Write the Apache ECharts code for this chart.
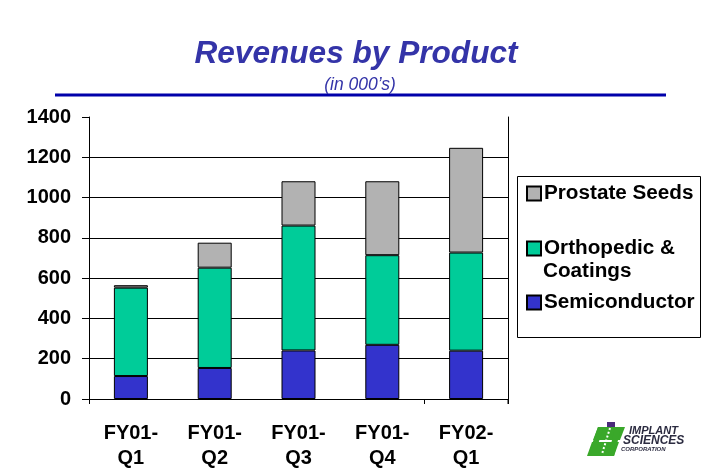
<!DOCTYPE html>
<html>
<head>
<meta charset="utf-8">
<script src="https://cdn.jsdelivr.net/npm/echarts@6/dist/echarts.min.js"></script>
<style>html,body{margin:0;padding:0;background:#fff}#c{width:720px;height:475px}</style>
</head>
<body>
<div id="c"></div>
<script>
var categories = ['FY01-\nQ1', 'FY01-\nQ2', 'FY01-\nQ3', 'FY01-\nQ4', 'FY02-\nQ1'];
var semiconductor = [114, 154, 241, 269, 240];
var orthopedic = [439, 498, 620, 445, 487];
var prostate = [12, 124, 220, 367, 520];
var seriesNames = ['Semiconductor', 'Orthopedic & Coatings', 'Prostate Seeds'];
var yTicks = [0, 200, 400, 600, 800, 1000, 1200, 1400];

var FONT = '"Liberation Sans", Arial, sans-serif';
var chart = echarts.init(document.getElementById('c'), null, {renderer: 'canvas'});

function legendAt(name, top, extra) {
  return Object.assign({
    data: [name],
    left: 526, top: top,
    orient: 'vertical',
    itemWidth: 14, itemHeight: 14,
    itemGap: 0,
    selectedMode: false,
    icon: 'rect',
    padding: 0,
    textStyle: {fontFamily: FONT, fontWeight: 'bold', fontSize: 20.7, color: '#000', padding: [0, 0, 0, -2]}
  }, extra || {});
}

var option = {
  animation: false,
  backgroundColor: '#fff',
  title: [
    {text: 'Revenues by Product', left: 351, textAlign: 'center', top: 33,
     textStyle: {fontFamily: FONT, fontSize: 31.6, fontWeight: 'bold', fontStyle: 'italic', color: '#3434A8'}},
    {text: '(in 000\u2019s)', left: 355, textAlign: 'center', top: 71,
     textStyle: {fontFamily: FONT, fontSize: 17.5, fontWeight: 'normal', fontStyle: 'italic', color: '#3434A8'}}
  ],
  legend: [
    legendAt('Prostate Seeds', 183),
    legendAt('Orthopedic & Coatings', 238, {
      formatter: function () { return 'Orthopedic &'; }
    }),
    legendAt('Semiconductor', 292)
  ],
  grid: {left: 89, right: 212, top: 117, bottom: 76, containLabel: false},
  xAxis: {
    type: 'category',
    data: categories,
    axisLine: {show: true, lineStyle: {color: '#000', width: 1}},
    axisTick: {show: true, length: 5, inside: false, lineStyle: {color: '#000'},
               interval: function (i) { return i === 0 || i === 4; }},
    axisLabel: {fontFamily: FONT, fontWeight: 'bold', fontSize: 20, color: '#000', lineHeight: 25, margin: 22}
  },
  yAxis: [{
    type: 'value', min: yTicks[0], max: yTicks[yTicks.length - 1], interval: 200,
    axisLine: {show: true, lineStyle: {color: '#000', width: 1}},
    axisTick: {show: true, length: 7, inside: false, lineStyle: {color: '#000'}},
    axisLabel: {fontFamily: FONT, fontWeight: 'bold', fontSize: 20, color: '#000', margin: 18,
                formatter: function (v) { return String(v); }},
    splitLine: {show: true, showMaxLine: false, lineStyle: {color: '#000', width: 1.2}}
  }, {
    type: 'value', position: 'right', min: yTicks[0], max: yTicks[yTicks.length - 1], interval: 200,
    axisLine: {show: true, lineStyle: {color: '#000', width: 1}},
    axisTick: {show: false}, axisLabel: {show: false}, splitLine: {show: false}
  }],
  series: [
    {name: seriesNames[0], type: 'bar', stack: 'rev', data: semiconductor, barWidth: 34,
     itemStyle: {color: '#3333CC', borderColor: '#000', borderWidth: 1}},
    {name: seriesNames[1], type: 'bar', stack: 'rev', data: orthopedic, barWidth: 34,
     itemStyle: {color: '#00CC99', borderColor: '#000', borderWidth: 1}},
    {name: seriesNames[2], type: 'bar', stack: 'rev', data: prostate, barWidth: 34,
     itemStyle: {color: '#B2B2B2', borderColor: '#000', borderWidth: 1}}
  ],
  graphic: [
    {type: 'line', shape: {x1: 55, y1: 95, x2: 666, y2: 95}, style: {stroke: '#0000AA', lineWidth: 3}},
    {type: 'rect', shape: {x: 517.5, y: 176.5, width: 183, height: 161}, style: {fill: 'none', stroke: '#000', lineWidth: 1}},
    {type: 'text', x: 543, y: 271, style: {text: 'Coatings', font: 'bold 20.7px "Liberation Sans", Arial, sans-serif', fill: '#000', verticalAlign: 'middle'}},
    {type: 'line', shape: {x1: 508, y1: 399, x2: 508, y2: 404}, style: {stroke: '#000', lineWidth: 1}},
    {type: 'group', children: [
      {type: 'polygon', shape: {points: [[598, 427], [625, 427], [620, 440], [593, 440]]}, style: {fill: '#3AA82A'}},
      {type: 'polygon', shape: {points: [[592, 442], [619, 442], [614, 456], [587, 456]]}, style: {fill: '#3AA82A'}},
      {type: 'polygon', shape: {points: [[598, 427], [604, 427], [596, 450], [590, 450]]}, style: {fill: '#3AA82A'}},
      {type: 'polygon', shape: {points: [[614, 432], [620, 432], [614, 456], [608, 456]]}, style: {fill: '#3AA82A'}},
      {type: 'rect', shape: {x: 607, y: 422, width: 8, height: 5}, style: {fill: '#4B2A7A'}},
      {type: 'line', shape: {x1: 610, y1: 428, x2: 602, y2: 454}, style: {stroke: '#fff', lineWidth: 2, lineDash: [2, 2]}},
      {type: 'text', x: 629, y: 425, style: {text: 'IMPLANT', font: 'italic bold 11px "Liberation Sans", Arial, sans-serif', fill: '#2B2B40'}},
      {type: 'text', x: 623, y: 435, style: {text: 'SCIENCES', font: 'italic bold 12px "Liberation Sans", Arial, sans-serif', fill: '#2B2B40'}},
      {type: 'text', x: 621, y: 446, style: {text: 'CORPORATION', font: 'italic bold 6px "Liberation Sans", Arial, sans-serif', fill: '#2B2B40'}}
    ]}
  ]
};
chart.setOption(option);
</script>
</body>
</html>
